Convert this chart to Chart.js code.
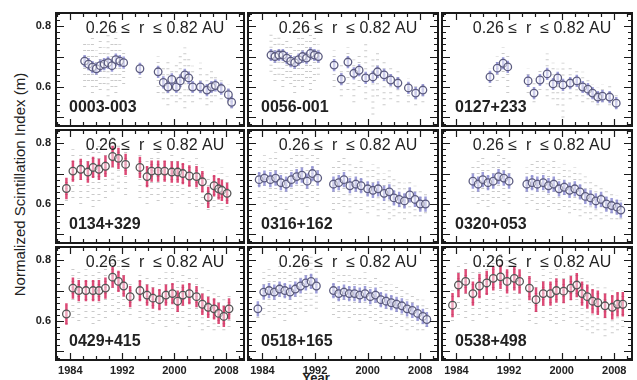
<!DOCTYPE html>
<html>
<head>
<meta charset="utf-8">
<script src="https://cdn.jsdelivr.net/npm/chart.js@4.4.0/dist/chart.umd.min.js"></script>
<style>
    body { margin: 0; background: #fff; width: 637px; height: 380px; overflow: hidden; position: relative; font-family: "Liberation Sans", Arial, sans-serif; }
    canvas { position: absolute; }
    #ytitle { position: absolute; left: -141px; top: 176px; width: 320px; text-align: center; font-size: 15px; color: #222; transform: rotate(-90deg); }
    #xtitle { position: absolute; left: 291px; top: 370px; width: 50px; text-align: center; font-size: 13px; font-weight: bold; color: #222; }
</style>
</head>
<body>
<div id="ytitle">Normalized Scintillation Index (m)</div>
<div id="xtitle">Year</div>
<script>
// Source names, one per panel (row by row)
const sources = ['0003-003', '0056-001', '0127+233', '0134+329', '0316+162', '0320+053', '0429+415', '0518+165', '0538+498'];
const rangeLabel = '0.26 \u2264  r  \u2264 0.82 AU';
const xTickYears = [1984, 1992, 2000, 2008];
const yTickValues = [0.6, 0.8];

// Epochs of the averaged points (years), per panel
const epochs = [
    [1986.2, 1986.8, 1987.4, 1988.0, 1988.6, 1989.2, 1989.8, 1990.4, 1991.0, 1991.6, 1992.2, 1994.7, 1997.5, 1998.3, 1999.0, 1999.6, 2000.3, 2000.9, 2001.6, 2002.2, 2002.8, 2004.0, 2005.0, 2005.7, 2006.3, 2007.2, 2008.3, 2008.8],
    [1985.3, 1985.9, 1986.5, 1987.1, 1987.7, 1988.3, 1988.9, 1989.5, 1990.1, 1990.7, 1991.3, 1991.9, 1992.5, 1994.9, 1996.0, 1997.0, 1997.9, 1998.7, 1999.7, 2000.8, 2001.5, 2002.5, 2003.5, 2004.6, 2006.2, 2007.3, 2008.4],
    [1989.1, 1990.2, 1991.1, 1991.8, 1994.9, 1995.8, 1996.7, 1997.8, 1998.7, 1999.4, 2000.2, 2001.3, 2002.3, 2003.2, 2004.0, 2004.7, 2005.5, 2006.2, 2007.3, 2008.3],
    [1983.4, 1984.4, 1985.6, 1986.7, 1987.5, 1988.4, 1989.4, 1990.5, 1991.4, 1992.5, 1994.7, 1995.8, 1996.5, 1997.5, 1998.5, 1999.6, 2000.5, 2001.3, 2002.3, 2003.4, 2004.3, 2005.2, 2006.1, 2006.8, 2007.3, 2008.1],
    [1983.5, 1984.3, 1985.2, 1986.0, 1986.8, 1987.6, 1988.4, 1989.2, 1990.0, 1990.8, 1991.6, 1992.4, 1994.8, 1995.6, 1996.4, 1997.3, 1998.2, 1999.0, 2000.0, 2000.8, 2001.6, 2002.5, 2003.3, 2004.0, 2004.8, 2005.6, 2006.4, 2007.2, 2008.0, 2008.8],
    [1986.5, 1987.3, 1988.0, 1988.8, 1989.6, 1990.4, 1991.2, 1992.0, 1994.7, 1995.5, 1996.3, 1997.2, 1998.0, 1998.8, 1999.6, 2000.4, 2001.2, 2002.0, 2002.8, 2003.6, 2004.4, 2005.2, 2006.0, 2006.8, 2007.6, 2008.4, 2009.0],
    [1983.4, 1984.4, 1985.3, 1986.4, 1987.5, 1988.4, 1989.4, 1990.5, 1991.4, 1992.2, 1993.2, 1994.7, 1995.8, 1996.7, 1997.7, 1998.7, 1999.7, 2000.5, 2001.3, 2002.3, 2003.4, 2004.3, 2005.2, 2006.1, 2006.8, 2007.6, 2008.4],
    [1983.3, 1984.2, 1985.0, 1985.8, 1986.6, 1987.4, 1988.2, 1989.0, 1989.8, 1990.6, 1991.4, 1992.2, 1994.8, 1995.6, 1996.4, 1997.2, 1998.0, 1998.8, 1999.6, 2000.4, 2001.2, 2002.0, 2002.8, 2003.6, 2004.4, 2005.2, 2006.0, 2006.8, 2007.6, 2008.4, 2009.0],
    [1983.4, 1984.3, 1985.4, 1986.5, 1987.5, 1988.6, 1989.6, 1990.7, 1991.7, 1992.8, 1993.6, 1995.1, 1996.1, 1997.2, 1998.3, 1999.2, 2000.3, 2001.4, 2002.3, 2003.1, 2003.9, 2004.7, 2005.5, 2006.6, 2007.7, 2008.5, 2009.3]
];

// Averaged normalized scintillation index (circles)
const means = [
    [0.685, 0.675, 0.665, 0.66, 0.67, 0.675, 0.68, 0.67, 0.69, 0.685, 0.68, 0.66, 0.65, 0.615, 0.60, 0.625, 0.60, 0.62, 0.64, 0.63, 0.60, 0.60, 0.59, 0.60, 0.605, 0.595, 0.575, 0.55],
    [0.705, 0.70, 0.705, 0.705, 0.695, 0.685, 0.68, 0.69, 0.70, 0.695, 0.71, 0.705, 0.70, 0.672, 0.626, 0.682, 0.645, 0.655, 0.63, 0.633, 0.65, 0.64, 0.623, 0.613, 0.597, 0.58, 0.59],
    [0.633, 0.662, 0.678, 0.666, 0.62, 0.58, 0.623, 0.643, 0.61, 0.63, 0.607, 0.613, 0.62, 0.60, 0.593, 0.58, 0.567, 0.57, 0.567, 0.547],
    [0.651, 0.708, 0.714, 0.705, 0.72, 0.714, 0.724, 0.756, 0.75, 0.73, 0.72, 0.69, 0.708, 0.708, 0.708, 0.705, 0.705, 0.70, 0.692, 0.69, 0.673, 0.622, 0.66, 0.65, 0.645, 0.635],
    [0.68, 0.685, 0.68, 0.685, 0.67, 0.665, 0.68, 0.69, 0.695, 0.675, 0.70, 0.685, 0.665, 0.67, 0.68, 0.66, 0.665, 0.66, 0.65, 0.645, 0.65, 0.635, 0.64, 0.62, 0.615, 0.61, 0.63, 0.615, 0.60, 0.60],
    [0.675, 0.665, 0.68, 0.67, 0.675, 0.69, 0.685, 0.675, 0.665, 0.67, 0.665, 0.67, 0.66, 0.665, 0.65, 0.655, 0.645, 0.65, 0.64, 0.625, 0.62, 0.61, 0.615, 0.60, 0.595, 0.59, 0.58],
    [0.623, 0.708, 0.70, 0.70, 0.70, 0.70, 0.708, 0.744, 0.73, 0.715, 0.68, 0.70, 0.685, 0.675, 0.67, 0.685, 0.69, 0.665, 0.685, 0.69, 0.68, 0.655, 0.645, 0.64, 0.625, 0.615, 0.64],
    [0.64, 0.695, 0.70, 0.695, 0.705, 0.70, 0.695, 0.705, 0.715, 0.725, 0.73, 0.715, 0.70, 0.69, 0.695, 0.69, 0.69, 0.685, 0.69, 0.68, 0.685, 0.67, 0.665, 0.66, 0.655, 0.65, 0.64, 0.635, 0.625, 0.615, 0.605],
    [0.652, 0.718, 0.73, 0.69, 0.715, 0.725, 0.74, 0.745, 0.73, 0.74, 0.73, 0.708, 0.67, 0.69, 0.69, 0.70, 0.698, 0.708, 0.718, 0.69, 0.68, 0.665, 0.66, 0.65, 0.645, 0.655, 0.655]
];

// Extent of the individual (gray) measurements around each epoch
const spreadLo = [
    [0.60, 0.62, 0.58, 0.60, 0.59, 0.61, 0.57, 0.60, 0.58, 0.62, 0.61, 0.63, 0.58, 0.56, 0.54, 0.57, 0.55, 0.56, 0.53, 0.57, 0.55, 0.56, 0.54, 0.55, 0.57, 0.56, 0.55, 0.53],
    [0.65, 0.62, 0.64, 0.60, 0.63, 0.61, 0.58, 0.62, 0.60, 0.63, 0.59, 0.62, 0.64, 0.60, 0.57, 0.59, 0.55, 0.60, 0.56, 0.51, 0.57, 0.54, 0.56, 0.55, 0.55, 0.54, 0.55],
    [0.60, 0.62, 0.63, 0.58, 0.58, 0.55, 0.59, 0.57, 0.56, 0.54, 0.50, 0.56, 0.57, 0.55, 0.56, 0.55, 0.54, 0.55, 0.54, 0.53],
    [0.61, 0.62, 0.60, 0.62, 0.59, 0.61, 0.62, 0.64, 0.65, 0.63, 0.62, 0.60, 0.63, 0.61, 0.62, 0.60, 0.62, 0.63, 0.60, 0.59, 0.60, 0.58, 0.59, 0.60, 0.58, 0.59],
    [0.62, 0.60, 0.61, 0.59, 0.60, 0.58, 0.61, 0.62, 0.60, 0.59, 0.62, 0.61, 0.58, 0.60, 0.59, 0.57, 0.60, 0.58, 0.57, 0.59, 0.56, 0.58, 0.55, 0.56, 0.57, 0.55, 0.57, 0.56, 0.56, 0.57],
    [0.62, 0.60, 0.61, 0.59, 0.60, 0.62, 0.61, 0.60, 0.60, 0.61, 0.58, 0.60, 0.59, 0.60, 0.58, 0.59, 0.57, 0.58, 0.56, 0.57, 0.55, 0.56, 0.55, 0.56, 0.55, 0.55, 0.55],
    [0.59, 0.61, 0.60, 0.61, 0.59, 0.60, 0.61, 0.63, 0.62, 0.63, 0.62, 0.61, 0.60, 0.59, 0.60, 0.58, 0.60, 0.59, 0.61, 0.58, 0.60, 0.57, 0.58, 0.57, 0.58, 0.57, 0.58],
    [0.61, 0.62, 0.63, 0.61, 0.62, 0.60, 0.63, 0.62, 0.64, 0.63, 0.65, 0.64, 0.62, 0.61, 0.63, 0.61, 0.62, 0.60, 0.62, 0.61, 0.60, 0.59, 0.60, 0.58, 0.59, 0.58, 0.57, 0.58, 0.57, 0.57, 0.58],
    [0.60, 0.62, 0.61, 0.60, 0.62, 0.61, 0.63, 0.62, 0.64, 0.63, 0.65, 0.60, 0.59, 0.61, 0.60, 0.59, 0.60, 0.61, 0.59, 0.58, 0.57, 0.56, 0.57, 0.55, 0.56, 0.57, 0.58]
];
const spreadHi = [
    [0.75, 0.74, 0.78, 0.72, 0.76, 0.73, 0.77, 0.75, 0.79, 0.74, 0.72, 0.68, 0.70, 0.67, 0.69, 0.66, 0.68, 0.71, 0.73, 0.70, 0.67, 0.68, 0.65, 0.66, 0.64, 0.63, 0.61, 0.57],
    [0.78, 0.76, 0.77, 0.75, 0.76, 0.74, 0.73, 0.76, 0.78, 0.75, 0.79, 0.77, 0.74, 0.72, 0.68, 0.73, 0.69, 0.71, 0.75, 0.70, 0.72, 0.69, 0.67, 0.66, 0.63, 0.61, 0.61],
    [0.66, 0.70, 0.73, 0.71, 0.66, 0.63, 0.66, 0.71, 0.68, 0.66, 0.68, 0.67, 0.66, 0.65, 0.63, 0.61, 0.60, 0.61, 0.61, 0.58],
    [0.68, 0.78, 0.77, 0.79, 0.78, 0.80, 0.81, 0.82, 0.80, 0.78, 0.77, 0.75, 0.76, 0.78, 0.75, 0.77, 0.74, 0.76, 0.74, 0.75, 0.72, 0.69, 0.71, 0.70, 0.72, 0.69],
    [0.74, 0.76, 0.75, 0.77, 0.74, 0.75, 0.76, 0.78, 0.77, 0.75, 0.79, 0.76, 0.73, 0.75, 0.76, 0.74, 0.73, 0.74, 0.72, 0.73, 0.72, 0.70, 0.71, 0.69, 0.68, 0.67, 0.68, 0.66, 0.65, 0.64],
    [0.73, 0.74, 0.76, 0.73, 0.75, 0.77, 0.76, 0.74, 0.72, 0.74, 0.75, 0.74, 0.73, 0.75, 0.72, 0.73, 0.71, 0.72, 0.70, 0.69, 0.68, 0.67, 0.66, 0.65, 0.64, 0.63, 0.62],
    [0.65, 0.78, 0.77, 0.77, 0.76, 0.78, 0.79, 0.81, 0.80, 0.77, 0.73, 0.76, 0.75, 0.74, 0.75, 0.76, 0.77, 0.74, 0.76, 0.75, 0.74, 0.72, 0.71, 0.70, 0.69, 0.68, 0.69],
    [0.67, 0.76, 0.77, 0.76, 0.78, 0.77, 0.76, 0.78, 0.79, 0.80, 0.82, 0.78, 0.76, 0.75, 0.76, 0.75, 0.74, 0.75, 0.76, 0.74, 0.75, 0.73, 0.73, 0.72, 0.72, 0.71, 0.70, 0.69, 0.68, 0.67, 0.65],
    [0.70, 0.79, 0.80, 0.77, 0.79, 0.80, 0.81, 0.82, 0.80, 0.79, 0.76, 0.77, 0.74, 0.77, 0.76, 0.78, 0.76, 0.77, 0.79, 0.75, 0.74, 0.73, 0.72, 0.71, 0.70, 0.69, 0.70]
];

// Half length of the error bar, per panel
const errHalf = [0.02, 0.02, 0.02, 0.035, 0.025, 0.025, 0.035, 0.025, 0.04];
// Error bar colour group, per panel
const barGroup = ['blue', 'blue', 'blue', 'red', 'blue', 'blue', 'red', 'blue', 'red'];

const palette = {
    blue: { bar: 'rgba(125, 125, 205, 0.75)', circle: '#5c5c80' },
    red: { bar: 'rgba(212, 30, 85, 0.8)', circle: '#555555' }
};

// Panel geometry (page pixels)
const colLeft = [56, 248, 442];
const colWidth = [188, 190, 190];
const rowTop = [13, 130, 247];
const rowHeight = 113;
const Y_AXIS_W = 56;
const X_AXIS_H = 20;
const PAD = 2;
const FONT = '"Liberation Sans", Arial, sans-serif';

// Frame, inward ticks, tick labels and in-panel labels
const panelFrame = {
    id: 'panelFrame',
    afterDraw(chart, args, opts) {
        const { ctx, chartArea: a, scales: { x, y } } = chart;
        ctx.save();
        ctx.setLineDash([]);
        ctx.strokeStyle = '#1a1a1a';
        ctx.lineWidth = 1.2;
        ctx.beginPath();
        for (let v = 1982; v <= 2010; v += 2) {
            const px = Math.round(x.getPixelForValue(v)) + 0.5;
            const len = xTickYears.includes(v) ? 7 : 4;
            ctx.moveTo(px, a.bottom); ctx.lineTo(px, a.bottom - len);
            ctx.moveTo(px, a.top); ctx.lineTo(px, a.top + len);
        }
        for (let k = 24; k <= 42; k++) {
            const py = Math.round(y.getPixelForValue(k * 0.02)) + 0.5;
            const len = k % 5 === 0 ? 8 : 4;
            ctx.moveTo(a.left, py); ctx.lineTo(a.left + len, py);
            ctx.moveTo(a.right, py); ctx.lineTo(a.right - len, py);
        }
        ctx.stroke();
        ctx.lineWidth = 2;
        ctx.strokeRect(a.left, a.top, a.right - a.left, a.bottom - a.top);

        ctx.fillStyle = '#222';
        ctx.font = 'bold 11px ' + FONT;
        if (opts.showY) {
            ctx.textAlign = 'right';
            ctx.textBaseline = 'middle';
            yTickValues.forEach(v => ctx.fillText(v.toFixed(1), a.left - 5, y.getPixelForValue(v)));
        }
        if (opts.showX) {
            ctx.textAlign = 'center';
            ctx.textBaseline = 'top';
            xTickYears.forEach(v => ctx.fillText(String(v), x.getPixelForValue(v), a.bottom + 5));
        }

        ctx.textBaseline = 'middle';
        ctx.font = '16px ' + FONT;
        ctx.textAlign = 'center';
        ctx.fillText(rangeLabel, (a.left + a.right) / 2 + 5, a.top + 16);
        ctx.font = 'bold 16px ' + FONT;
        ctx.textAlign = 'left';
        ctx.fillText(opts.name, a.left + 13, a.bottom - 18);
        ctx.restore();
    }
};

// Vertical segments lo..hi, broken with nulls
function segments(ts, lo, hi) {
    return ts.flatMap((t, k) => [{ x: t, y: lo[k] }, { x: t, y: hi[k] }, { x: t, y: null }]);
}

function createPanel(i) {
    const row = Math.floor(i / 3), col = i % 3;
    const showY = col === 0, showX = row === 2;
    const padL = showY ? Y_AXIS_W : PAD;
    const padB = showX ? X_AXIS_H : PAD;

    const canvas = document.createElement('canvas');
    const w = colWidth[col] + padL + PAD;
    const h = rowHeight + PAD + padB;
    canvas.width = w;
    canvas.height = h;
    canvas.style.width = w + 'px';
    canvas.style.height = h + 'px';
    canvas.style.left = (colLeft[col] - padL) + 'px';
    canvas.style.top = (rowTop[row] - PAD) + 'px';
    document.body.appendChild(canvas);

    const ts = epochs[i];
    const m = means[i];
    const errLo = m.map(v => v - errHalf[i]);
    const errHi = m.map(v => v + errHalf[i]);
    const colors = palette[barGroup[i]];

    new Chart(canvas, {
        type: 'scatter',
        data: {
            datasets: [
                {
                    data: ts.map((t, k) => ({ x: t, y: m[k] })),
                    pointRadius: 3.8,
                    pointBorderWidth: 1.3,
                    pointBorderColor: colors.circle,
                    pointBackgroundColor: 'rgba(255, 255, 255, 0.5)'
                },
                {
                    data: segments(ts, errLo, errHi),
                    showLine: true,
                    borderColor: colors.bar,
                    borderWidth: 2.5,
                    pointRadius: 0
                },
                {
                    data: segments(ts, spreadLo[i], spreadHi[i]),
                    showLine: true,
                    borderColor: 'rgba(150, 150, 150, 0.5)',
                    borderWidth: 3,
                    borderDash: [1, 5],
                    pointRadius: 0
                }
            ]
        },
        options: {
            responsive: false,
            animation: false,
            events: [],
            devicePixelRatio: 1,
            layout: { autoPadding: false, padding: { top: PAD, right: PAD, left: padL, bottom: padB } },
            plugins: {
                legend: { display: false },
                tooltip: { enabled: false },
                panelFrame: { name: sources[i], showX, showY }
            },
            scales: {
                x: { type: 'linear', min: 1981.8, max: 2010.7, display: false },
                y: { min: 0.472, max: 0.843, display: false }
            }
        },
        plugins: [panelFrame]
    });
}

sources.forEach((name, i) => createPanel(i));
</script>
</body>
</html>
